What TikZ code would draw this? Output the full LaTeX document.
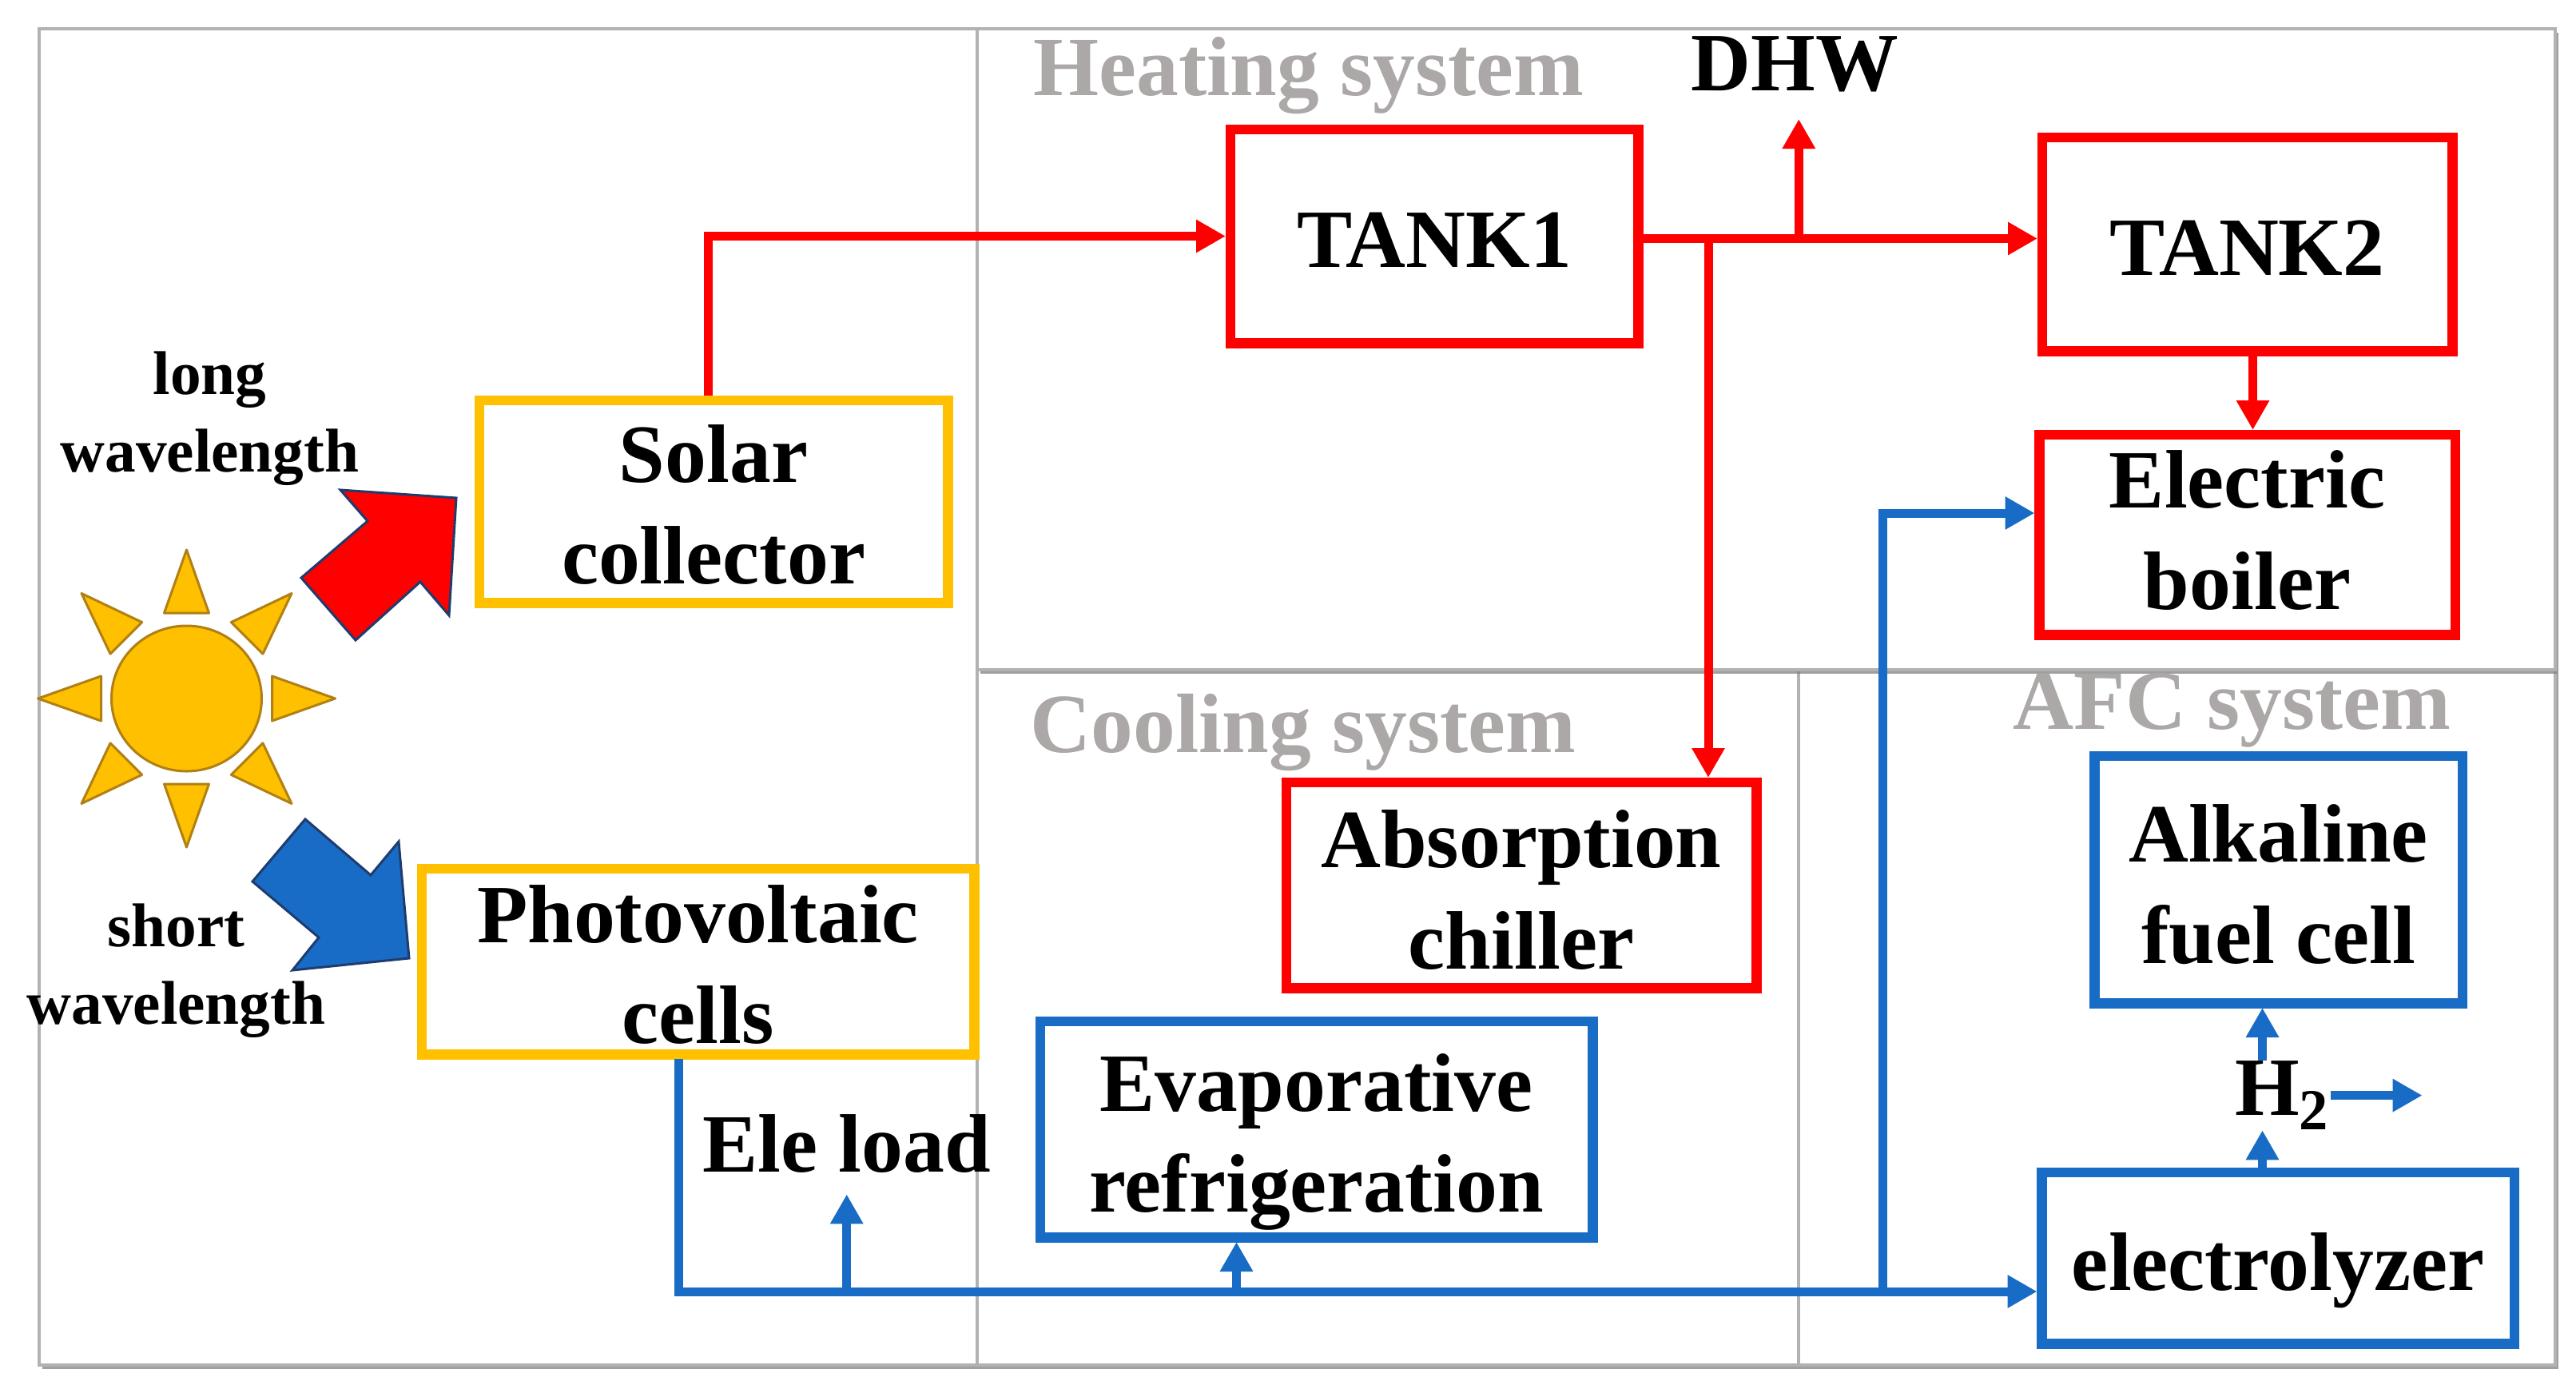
\documentclass[tikz,border=0pt]{standalone}
\usepackage{fontspec}
\setmainfont{Liberation Serif}
\usepackage{xcolor}
\usetikzlibrary{shapes.geometric, arrows.meta, positioning, shadows}
\definecolor{figred}{RGB}{255,0,0}
\definecolor{figyellow}{RGB}{255,192,0}
\definecolor{figblue}{RGB}{24,108,198}
\definecolor{figtitle}{RGB}{172,168,168}
\definecolor{fignavy}{RGB}{30,60,110}
\definecolor{figsunline}{RGB}{176,128,20}
\newcommand{\padtop}[1]{\rule{0pt}{#1}}
\newcommand{\padbot}[1]{\rule[-#1]{0pt}{0pt}}
\tikzstyle{panel} = [rectangle, fill=white, draw=gray!60, line width=0.04cm, outer sep=0pt,
drop shadow={shadow xshift=0.04cm, shadow yshift=-0.05cm, opacity=0.75}]
\tikzstyle{flowbox} = [rectangle, fill=white, line width=0.125cm, inner sep=0pt, outer sep=0.0575cm,
align=center, font=\fontsize{29.5}{36}\selectfont\bfseries]
\tikzstyle{redbox} = [flowbox, draw=figred]
\tikzstyle{yellowbox} = [flowbox, draw=figyellow]
\tikzstyle{bluebox} = [flowbox, draw=figblue]
\tikzstyle{titlelabel} = [inner sep=0pt, text=figtitle, font=\fontsize{30}{36}\selectfont\bfseries]
\tikzstyle{biglabel} = [inner sep=0pt, font=\fontsize{29.5}{36}\selectfont\bfseries]
\tikzstyle{smalllabel} = [inner sep=0pt, align=center, font=\fontsize{22}{27.5}\selectfont\bfseries]
\tikzstyle{sunbody} = [ellipse, fill=figyellow, draw=figsunline, line width=0.03cm,
minimum width=1.88cm, minimum height=1.82cm, inner sep=0pt]
\tikzstyle{sunray} = [fill=figyellow, draw=figsunline, line width=0.03cm, line join=round]
\tikzstyle{bigarrow} = [draw=fignavy, line width=0.03cm, line join=miter]
\tikzstyle{redarrow} = [-{Triangle[length=0.37cm, width=0.39cm]}, line width=0.11cm, draw=figred]
\tikzstyle{bluearrow} = [-{Triangle[length=0.37cm, width=0.39cm]}, line width=0.11cm, draw=figblue]

\begin{document}
\begin{tikzpicture}
    \useasboundingbox (0,0) rectangle (32.24,-17.37);

    \node (leftpanel) [panel, anchor=north west, minimum width=11.74cm, minimum height=16.72cm] at (0.49,-0.36) {};
    \node (coolpanel) [panel, below right=8.02cm and 0cm of leftpanel.north east, minimum width=10.28cm, minimum height=8.70cm] {};
    \node (afcpanel)  [panel, anchor=north west, minimum width=9.47cm, minimum height=8.70cm] at (coolpanel.north east) {};
    \node (heatpanel) [panel, anchor=north west, minimum width=19.75cm, minimum height=8.02cm] at (leftpanel.north east) {};

    \node (heattitle) [titlelabel, below right=0.10cm and 0.70cm of heatpanel.north west] {Heating system};
    \node (cooltitle) [titlelabel, below right=0.30cm and 0.66cm of coolpanel.north west] {Cooling system};
    \node (afctitle)  [titlelabel, below right=0.04cm and 2.68cm of afcpanel.north west] {AFC system};

    \node (solar)    [yellowbox, minimum width=5.865cm, minimum height=2.535cm, below right=4.59cm and 5.45cm of leftpanel.north west] {\padtop{0.80cm}Solar\\collector};
    \node (pv)       [yellowbox, minimum width=6.915cm, minimum height=2.325cm, below right=3.21cm and -0.72cm of solar.south west] {\padtop{0.80cm}Photovoltaic\\cells};
    \node (tank1)    [redbox, minimum width=5.105cm, minimum height=2.675cm, above right=0.60cm and 3.42cm of solar.north east] {\padtop{0.78cm}TANK1};
    \node (tank2)    [redbox, minimum width=5.135cm, minimum height=2.675cm, right=4.94cm of tank1, yshift=-0.1cm] {\padtop{0.78cm}TANK2};
    \node (boiler)   [redbox, minimum width=5.205cm, minimum height=2.505cm, below=0.93cm of tank2] {Electric\\boiler\padbot{0.12cm}};
    \node (chiller)  [redbox, minimum width=5.885cm, minimum height=2.575cm, below right=5.38cm and 0.70cm of tank1.south west] {\padtop{0.84cm}Absorption\\chiller};
    \node (evap)     [bluebox, minimum width=6.915cm, minimum height=2.705cm, below right=0.30cm and -3.08cm of chiller.south west] {\padtop{1.04cm}Evaporative\\refrigeration};
    \node (alkaline) [bluebox, minimum width=4.605cm, minimum height=3.095cm, below right=1.40cm and 0.69cm of boiler.south west] {\padtop{0.84cm}Alkaline\\fuel cell};
    \node (elyz)     [bluebox, minimum width=5.915cm, minimum height=2.145cm, below right=2.00cm and -0.66cm of alkaline.south west] {\padtop{1.04cm}electrolyzer};

    \node (dhw)     [biglabel, above right=0.40cm and 0.60cm of tank1.north east] {DHW};
    \node (eleload) [biglabel, below right=0.69cm and 3.57cm of pv.south west] {Ele load};
    \node (h2)      [biglabel, below right=0.66cm and 1.81cm of alkaline.south west] {H\textsubscript{2}};
    \node (longw)   [smalllabel, left=1.44cm of solar.west, yshift=1.04cm] {long\\wavelength};
    \node (shortw)  [smalllabel, left=1.14cm of pv.west, yshift=-0.12cm] {short\\wavelength};

    \node (sun) [sunbody] at (2.335,-8.74) {};
    \foreach \ang in {0,45,...,315}
        \draw[sunray, shift={(sun.center)}, rotate=\ang] (1.07,0.28) -- (1.86,0) -- (1.07,-0.28) -- cycle;

    \draw[bigarrow, fill=figred] (4.26,-6.13) -- (5.71,-6.23) -- (5.62,-7.70) -- (5.26,-7.28) -- (4.45,-8.01) -- (3.77,-7.23) -- (4.60,-6.52) -- cycle;
    \draw[bigarrow, fill=figblue] (3.82,-10.25) -- (4.64,-10.95) -- (4.99,-10.53) -- (5.12,-11.99) -- (3.66,-12.14) -- (3.99,-11.73) -- (3.16,-11.03) -- cycle;

    \coordinate (solarout) at ([xshift=-0.07cm]solar.north);
    \coordinate (tankout) at ([yshift=-0.03cm]tank1.east);
    \coordinate (jchill) at ([xshift=0.82cm]tankout);
    \coordinate (dhwin) at ([xshift=0.05cm, yshift=-0.33cm]dhw.south);
    \coordinate (jdhw) at (dhwin |- tankout);
    \coordinate (boilerin) at ([xshift=0.07cm]tank2.south);
    \coordinate (pvout) at ([xshift=-0.245cm]pv.south);
    \coordinate (ebus) at ([yshift=-0.42cm]elyz.west);
    \coordinate (evapin) at ([xshift=-1.0cm]evap.south);
    \coordinate (jboil) at ([xshift=-1.93cm]elyz.west);
    \coordinate (bfeed) at ([yshift=0.27cm]boiler.west);
    \coordinate (h2up) at ([xshift=0.35cm]h2.north west);
    \coordinate (h2dn) at ([xshift=0.35cm]h2.south west);
    \coordinate (h2end) at ([xshift=1.15cm]h2.east);

    \draw[redarrow] (solarout) |- (tank1.west);
    \draw[redarrow] (tankout) -- (tankout -| tank2.west);
    \draw[redarrow] (jdhw) -- (dhwin);
    \draw[redarrow] (jchill) -- (jchill |- chiller.north);
    \draw[redarrow] (boilerin) -- (boilerin |- boiler.north);

    \draw[bluearrow] (pvout) |- (ebus);
    \draw[bluearrow] (eleload |- ebus) -- ([yshift=-0.26cm]eleload.south);
    \draw[bluearrow] (evapin |- ebus) -- (evapin);
    \draw[bluearrow] (jboil |- ebus) |- (bfeed);
    \draw[bluearrow] (h2up) -- (h2up |- alkaline.south);
    \draw[bluearrow] (h2dn |- elyz.north) -- (h2dn);
    \draw[bluearrow] (h2.east) -- (h2end);
\end{tikzpicture}
\end{document}
